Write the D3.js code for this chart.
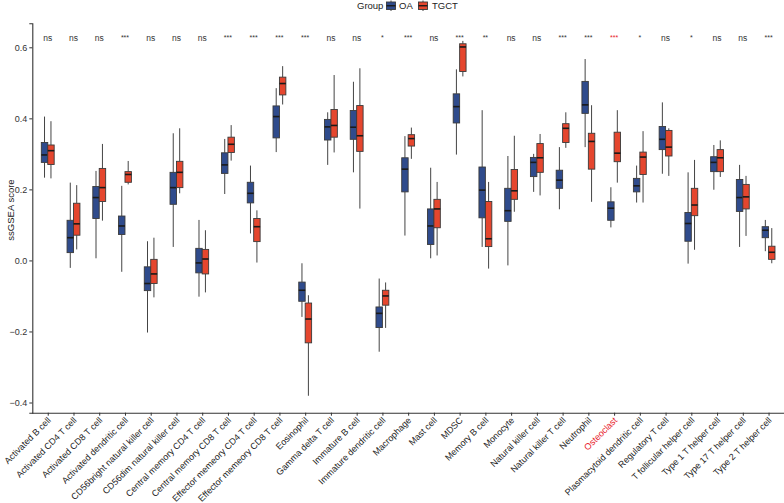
<!DOCTYPE html>
<html>
<head>
<meta charset="utf-8">
<script src="https://cdn.jsdelivr.net/npm/d3@7"></script>
<style>
  html, body { margin: 0; padding: 0; background: #fff; }
  svg { display: block; font-family: "Liberation Sans", Arial, sans-serif; }
</style>
</head>
<body>
<svg id="chart" width="784" height="503"></svg>
<script>
const categories = ["Activated B cell","Activated CD4 T cell","Activated CD8 T cell","Activated dendritic cell","CD56bright natural killer cell","CD56dim natural killer cell","Central memory CD4 T cell","Central memory CD8 T cell","Effector memeory CD4 T cell","Effector memeory CD8 T cell","Eosinophil","Gamma delta T cell","Immature  B cell","Immature dendritic cell","Macrophage","Mast cell","MDSC","Memory B cell","Monocyte","Natural killer cell","Natural killer T cell","Neutrophil","Osteoclast","Plasmacytoid dendritic cell","Regulatory T cell","T follicular helper cell","Type 1 T helper cell","Type 17 T helper cell","Type 2 T helper cell"];
const significance = ["ns","ns","ns","***","ns","ns","ns","***","***","***","***","ns","ns","*","***","ns","***","**","ns","ns","***","***","***","*","ns","*","ns","ns","***"];
const highlighted = ["Osteoclast"];
const groups = ["OA","TGCT"];

// OA box statistics
const oaLow  = [0.233,-0.021,0.006,-0.032,-0.203,0.038,-0.102,0.187,0.076,0.305,-0.159,0.269,0.248,-0.257,0.070,0.006,0.298,0.038,-0.014,0.193,0.144,0.319,0.093,0.163,0.244,-0.009,0.199,0.038,0.026];
const oaQ1   = [0.276,0.022,0.118,0.073,-0.085,0.158,-0.035,0.245,0.162,0.345,-0.115,0.339,0.341,-0.189,0.193,0.045,0.387,0.120,0.110,0.236,0.203,0.414,0.113,0.193,0.312,0.054,0.250,0.138,0.064];
const oaMed  = [0.297,0.064,0.177,0.097,-0.065,0.205,-0.007,0.269,0.189,0.405,-0.084,0.376,0.375,-0.149,0.257,0.097,0.433,0.198,0.140,0.276,0.226,0.438,0.147,0.210,0.341,0.104,0.276,0.177,0.085];
const oaQ3   = [0.332,0.113,0.208,0.125,-0.018,0.248,0.034,0.303,0.220,0.435,-0.061,0.397,0.422,-0.131,0.289,0.145,0.469,0.263,0.203,0.290,0.254,0.504,0.165,0.231,0.377,0.135,0.292,0.228,0.095];
const oaHigh = [0.405,0.219,0.252,0.210,0.054,0.358,0.114,0.342,0.267,0.485,-0.008,0.417,0.503,-0.051,0.350,0.261,0.538,0.423,0.294,0.300,0.319,0.567,0.206,0.267,0.445,0.248,0.325,0.269,0.114];

// TGCT box statistics
const tgLow  = [0.231,0.031,0.112,0.214,-0.104,0.189,-0.090,0.281,-0.006,0.439,-0.381,0.304,0.146,-0.190,0.286,0.014,0.518,-0.023,0.137,0.183,0.317,0.165,0.219,0.163,0.238,0.030,0.235,0.069,-0.008];
const tgQ1   = [0.270,0.071,0.166,0.220,-0.065,0.205,-0.038,0.304,0.053,0.466,-0.232,0.347,0.307,-0.126,0.322,0.092,0.532,0.039,0.172,0.248,0.332,0.257,0.278,0.242,0.294,0.126,0.250,0.145,0.003];
const tgMed  = [0.309,0.103,0.205,0.242,-0.038,0.248,0.004,0.327,0.095,0.498,-0.165,0.380,0.351,-0.100,0.343,0.145,0.601,0.061,0.196,0.289,0.372,0.335,0.302,0.291,0.319,0.156,0.289,0.179,0.023];
const tgQ3   = [0.325,0.161,0.259,0.250,0.003,0.279,0.031,0.347,0.118,0.516,-0.120,0.425,0.436,-0.084,0.354,0.172,0.610,0.166,0.256,0.329,0.385,0.358,0.361,0.305,0.366,0.203,0.312,0.214,0.040];
const tgHigh = [0.392,0.212,0.328,0.280,0.064,0.372,0.085,0.381,0.141,0.547,-0.098,0.522,0.541,-0.062,0.374,0.221,0.618,0.221,0.351,0.356,0.417,0.437,0.423,0.364,0.372,0.283,0.338,0.238,0.091];

const yTicks = [-0.4,-0.2,0.0,0.2,0.4,0.6];
const colors = {OA: "#2F4B8C", TGCT: "#E5462E"};

// ---- build rows
const stats = {
  OA:   {low: oaLow, q1: oaQ1, med: oaMed, q3: oaQ3, high: oaHigh},
  TGCT: {low: tgLow, q1: tgQ1, med: tgMed, q3: tgQ3, high: tgHigh}
};
const rows = [];
categories.forEach((c, i) => {
  groups.forEach(g => {
    const s = stats[g];
    rows.push({cat: c, group: g, low: s.low[i], q1: s.q1[i], med: s.med[i], q3: s.q3[i], high: s.high[i]});
  });
});

const svg = d3.select("#chart");
const margin = {left: 32.3, right: 0, top: 23.3, bottom: 90.3};
const W = 784, H = 503;
const panelBottom = H - margin.bottom;

// discrete scale with 0.6 expansion each side
const step = (W - margin.right - margin.left) / (categories.length - 1 + 1.2);
const x = d3.scalePoint().domain(categories)
  .range([margin.left + 0.6 * step, W - margin.right - 0.6 * step]);
const y = d3.scaleLinear().domain([-0.4287, 0.6676]).range([panelBottom, margin.top]);
const dodge = d3.scaleBand().domain(groups).range([-step * 0.25, step * 0.25]).padding(0);

const g = svg.append("g");

// boxes
const box = g.selectAll("g.box").data(rows).join("g").attr("class", "box")
  .attr("transform", d => `translate(${x(d.cat) + dodge(d.group)},0)`);
const bw = dodge.bandwidth();
box.append("line")
  .attr("x1", bw / 2).attr("x2", bw / 2)
  .attr("y1", d => y(d.high)).attr("y2", d => y(d.q3))
  .attr("stroke", "#444").attr("stroke-width", 1);
box.append("line")
  .attr("x1", bw / 2).attr("x2", bw / 2)
  .attr("y1", d => y(d.q1)).attr("y2", d => y(d.low))
  .attr("stroke", "#444").attr("stroke-width", 1);
box.append("rect")
  .attr("x", 0).attr("width", bw)
  .attr("y", d => y(d.q3)).attr("height", d => y(d.q1) - y(d.q3))
  .attr("fill", d => colors[d.group])
  .attr("stroke", "#3a3a3a").attr("stroke-width", 0.9);
box.append("line")
  .attr("x1", 0).attr("x2", bw)
  .attr("y1", d => y(d.med)).attr("y2", d => y(d.med))
  .attr("stroke", "#1a1a1a").attr("stroke-width", 1.6);

// significance labels
g.selectAll("text.sig").data(categories).join("text").attr("class", "sig")
  .attr("x", d => x(d))
  .attr("y", (d, i) => significance[i] === "ns" ? 41 : 40)
  .attr("text-anchor", "middle")
  .attr("font-size", (d, i) => significance[i] === "ns" ? 8.5 : 7)
  .attr("fill", d => highlighted.includes(d) ? "#E8202A" : "#333")
  .text((d, i) => significance[i]);

// y axis
const yAxis = d3.axisLeft(y).tickValues(yTicks).tickSize(3).tickPadding(2)
  .tickFormat(d3.format(".1f"));
const ya = svg.append("g").attr("transform", `translate(${margin.left},0)`).call(yAxis);
ya.select(".domain").attr("stroke", "#333").attr("stroke-width", 1.1);
ya.selectAll(".tick line").attr("stroke", "#333");
ya.selectAll(".tick text").attr("font-size", 9).attr("fill", "#333")
  .attr("font-family", "Liberation Sans, Arial, sans-serif")
  .text(d => d3.format(".1f")(d).replace("-", "\u2212"));

// x axis
const xAxis = d3.axisBottom(x).tickSize(3).tickSizeOuter(0);
const xa = svg.append("g").attr("transform", `translate(0,${panelBottom})`).call(xAxis);
xa.select(".domain").attr("stroke", "#333").attr("stroke-width", 1.1)
  .attr("d", `M${margin.left},0.5H${W}`);
xa.selectAll(".tick line").attr("stroke", "#333");
xa.selectAll(".tick text")
  .attr("font-size", 9).attr("fill", d => highlighted.includes(d) ? "#E8202A" : "#222")
  .attr("font-family", "Liberation Sans, Arial, sans-serif")
  .attr("text-anchor", "end")
  .attr("transform", "translate(1,6) rotate(-45)")
  .attr("x", 0).attr("y", 0).attr("dy", "0.35em");

// y label
svg.append("text")
  .attr("transform", `translate(14,${(margin.top + panelBottom) / 2 - 8}) rotate(-90)`)
  .attr("text-anchor", "middle").attr("font-size", 9.5).attr("fill", "#222")
  .text("ssGSEA score");

// legend
const leg = svg.append("g").attr("transform", "translate(357,0)");
leg.append("text").attr("x", 0).attr("y", 9).attr("font-size", 9.5).attr("fill", "#222").text("Group");
const legItems = [{g: "OA", x: 29, tx: 42}, {g: "TGCT", x: 61, tx: 75}];
legItems.forEach(it => {
  const k = leg.append("g").attr("transform", `translate(${it.x},0)`);
  k.append("line").attr("x1", 5).attr("x2", 5).attr("y1", 0.5).attr("y2", 11).attr("stroke", "#444");
  k.append("rect").attr("x", 0.5).attr("y", 2).attr("width", 9).attr("height", 7.5)
    .attr("fill", colors[it.g]).attr("stroke", "#3a3a3a").attr("stroke-width", 0.9);
  k.append("line").attr("x1", 0.5).attr("x2", 9.5).attr("y1", 5.75).attr("y2", 5.75).attr("stroke", "#1a1a1a").attr("stroke-width", 1.4);
  leg.append("text").attr("x", it.tx).attr("y", 9).attr("font-size", 9.5).attr("fill", "#222").text(it.g);
});
</script>
</body>
</html>
